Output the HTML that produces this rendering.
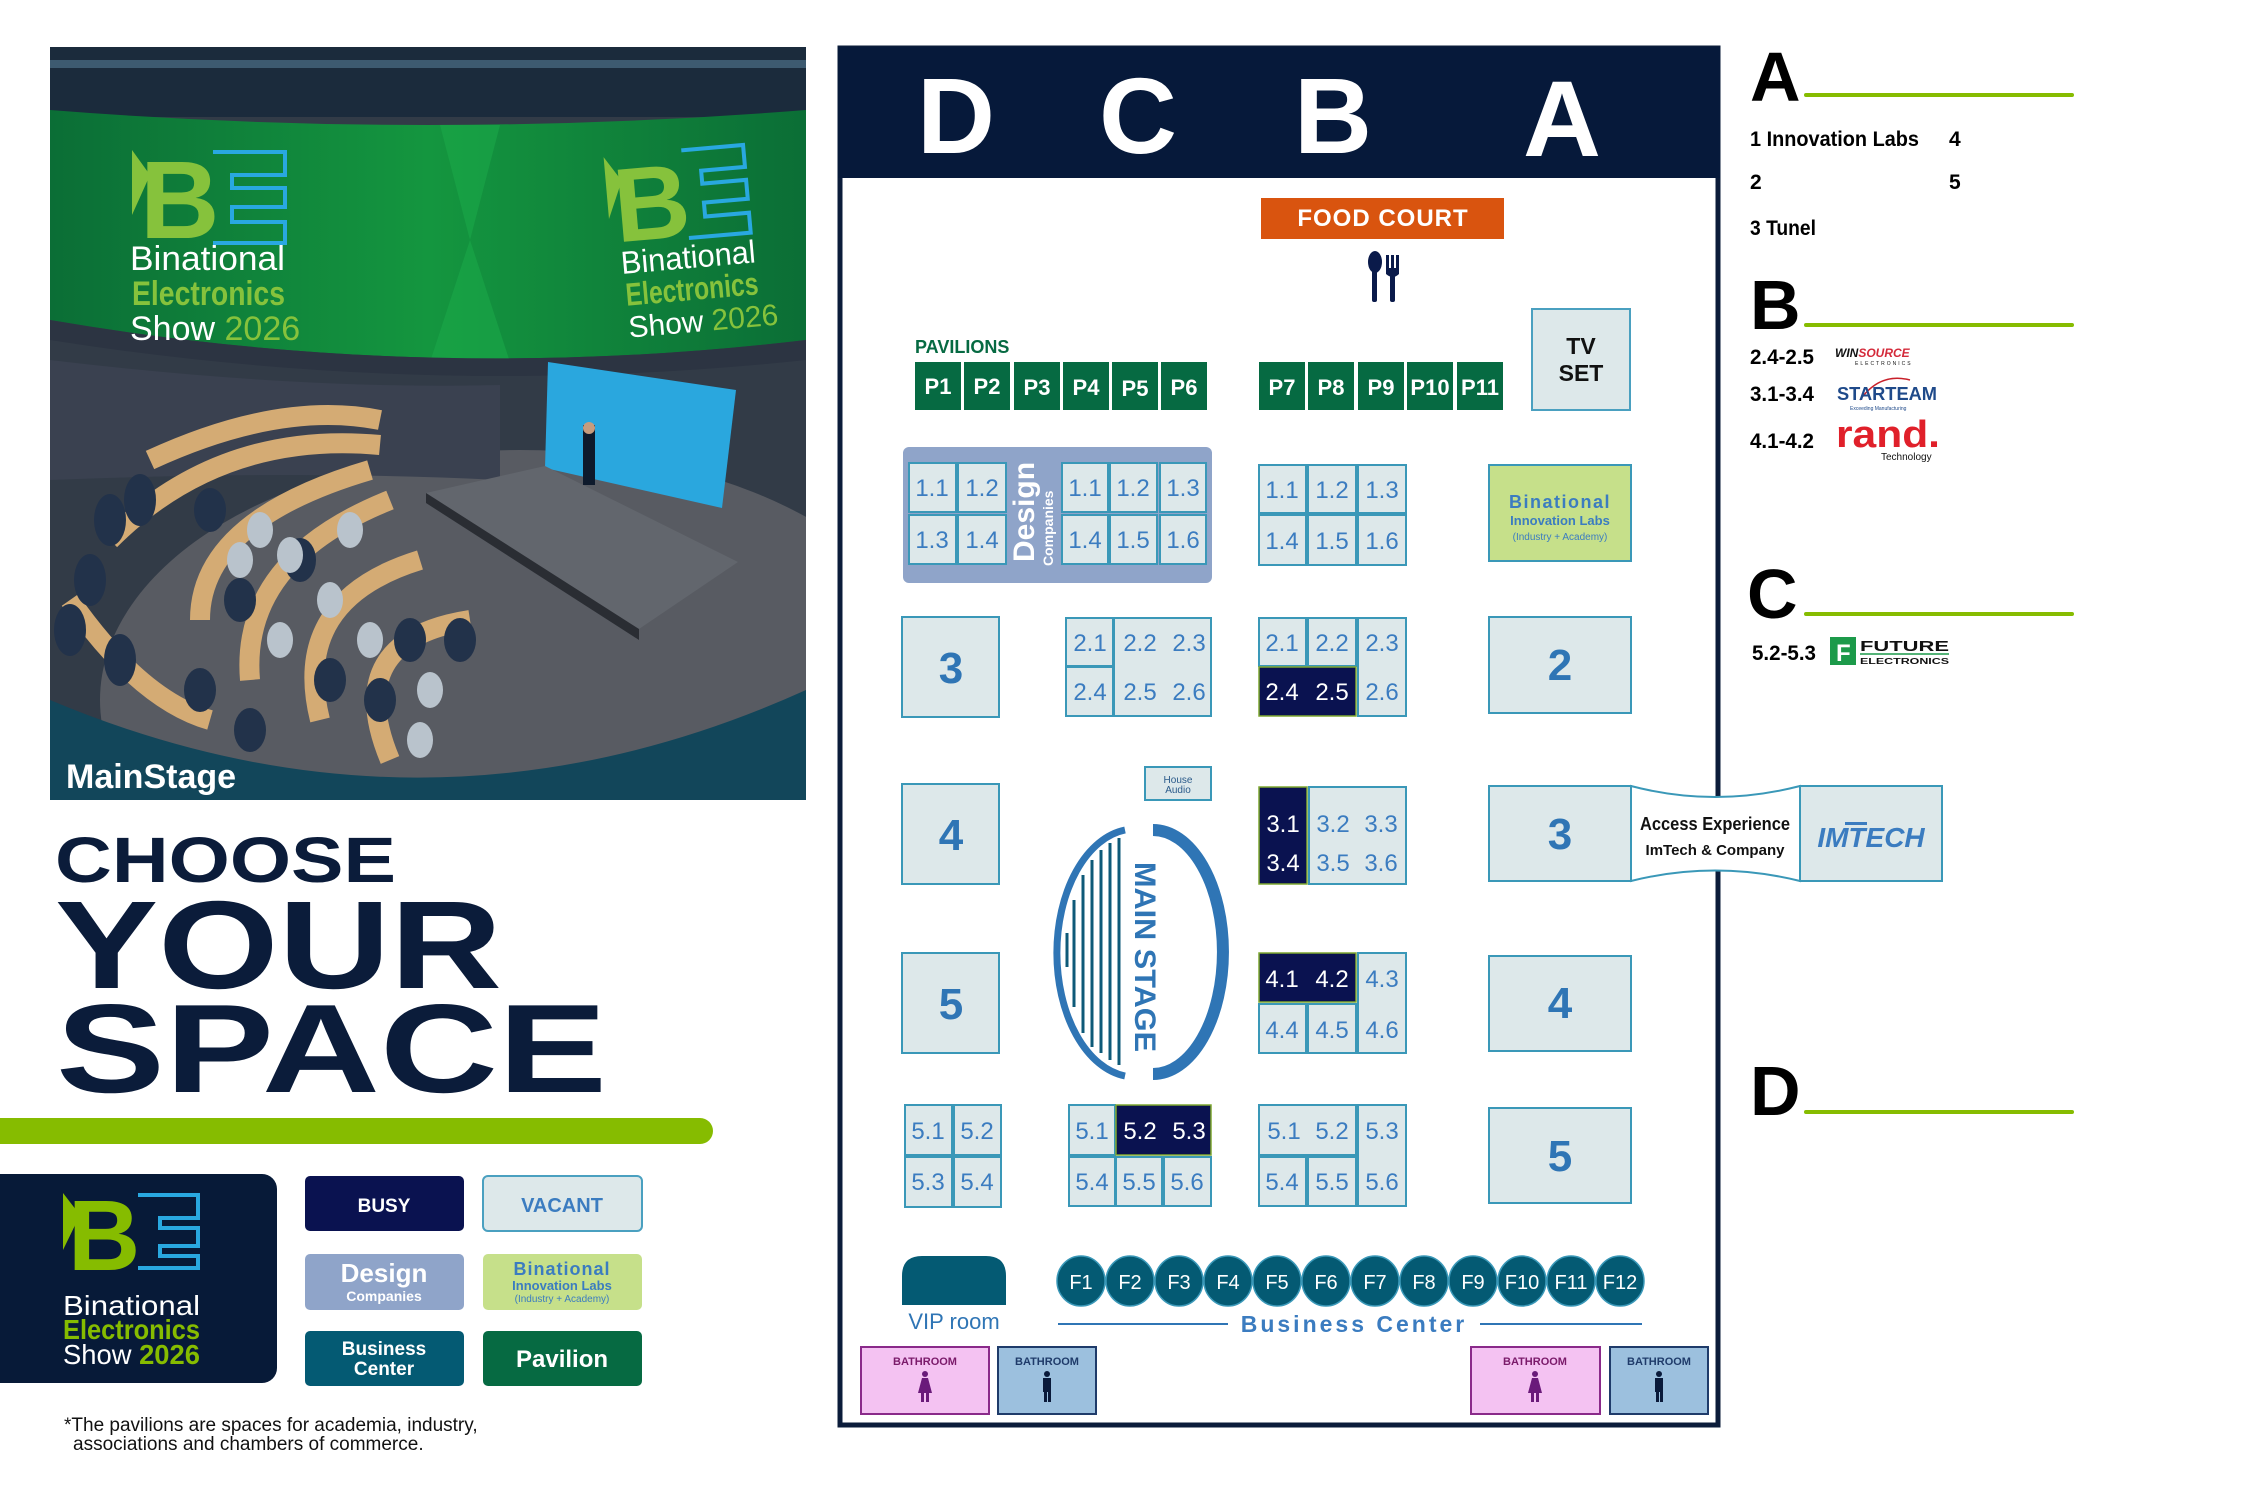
<!DOCTYPE html>
<html><head><meta charset="utf-8"><style>html,body{margin:0;padding:0;background:#fff}svg{display:block}</style></head>
<body>
<svg width="2262" height="1500" viewBox="0 0 2262 1500" xmlns="http://www.w3.org/2000/svg" font-family="Liberation Sans, DejaVu Sans, sans-serif">
<defs>
<clipPath id="ph"><rect x="50" y="47" width="756" height="753"/></clipPath>
<linearGradient id="gb" x1="0" y1="0" x2="1" y2="0"><stop offset="0" stop-color="#0b6e36"/><stop offset="0.5" stop-color="#14963f"/><stop offset="1" stop-color="#0b6e36"/></linearGradient>
</defs>
<rect width="2262" height="1500" fill="#fff"/>

<!-- PHOTO -->
<g clip-path="url(#ph)">
<rect x="50" y="47" width="756" height="753" fill="#323b47"/>
<rect x="50" y="47" width="756" height="70" fill="#1b2b3c"/>
<rect x="50" y="60" width="756" height="8" fill="#3d5a70"/>
<path d="M50,110 Q428,140 806,110 L806,340 Q428,385 50,320 Z" fill="url(#gb)"/>
<path d="M440,125 L500,125 L470,240 Z" fill="#1aa84a" opacity="0.6"/>
<path d="M470,240 L430,362 L510,362 Z" fill="#1aa84a" opacity="0.6"/>
<path d="M50,320 Q428,385 806,340 L806,360 Q428,400 50,340 Z" fill="#2c3442"/>
<ellipse cx="520" cy="700" rx="420" ry="250" fill="#585b62"/>
<path d="M50,360 Q300,390 500,385 L500,480 Q300,470 50,480 Z" fill="#3a4150"/>
<path d="M548,362 L736,390 L722,508 L545,468 Z" fill="#2aa7de"/>
<path d="M426,493 L545,466 L738,562 L639,629 Z" fill="#62666d"/>
<path d="M426,493 L639,629 L639,640 L426,503 Z" fill="#2a2d33"/>
<rect x="583" y="425" width="12" height="60" fill="#0e1a2c"/>
<circle cx="589" cy="428" r="6" fill="#c69c7e"/>
<g fill="none" stroke="#d4ab74" stroke-width="20">
<path d="M150,460 Q280,400 380,420"/>
<path d="M110,540 Q220,430 380,445"/>
<path d="M200,620 Q200,520 370,470"/>
<path d="M250,680 Q240,560 390,500"/>
<path d="M320,720 Q290,600 420,560"/>
<path d="M390,760 Q340,640 470,620"/>
<path d="M70,600 Q140,700 210,720"/>
</g>
<g fill="#22324a">
<ellipse cx="110" cy="520" rx="16" ry="26"/><ellipse cx="140" cy="500" rx="16" ry="26"/><ellipse cx="90" cy="580" rx="16" ry="26"/>
<ellipse cx="70" cy="630" rx="16" ry="26"/><ellipse cx="120" cy="660" rx="16" ry="26"/><ellipse cx="210" cy="510" rx="16" ry="22"/>
<ellipse cx="300" cy="560" rx="16" ry="22"/>
<ellipse cx="240" cy="600" rx="16" ry="22"/><ellipse cx="330" cy="680" rx="16" ry="22"/>
<ellipse cx="380" cy="700" rx="16" ry="22"/><ellipse cx="410" cy="640" rx="16" ry="22"/>
<ellipse cx="460" cy="640" rx="16" ry="22"/><ellipse cx="200" cy="690" rx="16" ry="22"/>
<ellipse cx="250" cy="730" rx="16" ry="22"/></g>
<g fill="#b9c3cc"><ellipse cx="290" cy="555" rx="13" ry="18"/><ellipse cx="330" cy="600" rx="13" ry="18"/><ellipse cx="370" cy="640" rx="13" ry="18"/><ellipse cx="420" cy="740" rx="13" ry="18"/><ellipse cx="240" cy="560" rx="13" ry="18"/><ellipse cx="350" cy="530" rx="13" ry="18"/><ellipse cx="280" cy="640" rx="13" ry="18"/><ellipse cx="430" cy="690" rx="13" ry="18"/><ellipse cx="260" cy="530" rx="13" ry="18"/></g>
<path d="M50,700 Q430,860 806,690 L806,800 L50,800 Z" fill="#12465a"/>
<path d="M132,150 L150,175 L132,215 Z" fill="#86c23c"/>
<text x="140" y="238" font-size="110" font-weight="bold" fill="#86c23c">B</text>
<path d="M213,152 H285 V175 H232 V188 H285 V207 H232 V222 H285 V243 H213" fill="none" stroke="#29a8e0" stroke-width="4"/>
<text x="130" y="270" font-size="34" fill="#fff" textLength="155" lengthAdjust="spacingAndGlyphs">Binational</text>
<text x="132" y="305" font-size="34" font-weight="bold" fill="#86c23c" textLength="153" lengthAdjust="spacingAndGlyphs">Electronics</text>
<text x="130" y="340" font-size="34" fill="#fff">Show <tspan fill="#86c23c">2026</tspan></text>
<g transform="rotate(-5 690 250)">
<path d="M612,150 L628,175 L612,212 Z" fill="#86c23c"/>
<text x="618" y="236" font-size="105" font-weight="bold" fill="#86c23c">B</text>
<path d="M690,150 H752 V172 H708 V185 H752 V204 H708 V218 H752 V238 H690" fill="none" stroke="#29a8e0" stroke-width="4"/>
<text x="620" y="268" font-size="32" fill="#fff" textLength="135" lengthAdjust="spacingAndGlyphs">Binational</text>
<text x="622" y="300" font-size="32" font-weight="bold" fill="#86c23c" textLength="133" lengthAdjust="spacingAndGlyphs">Electronics</text>
<text x="622" y="332" font-size="30" fill="#fff">Show <tspan fill="#86c23c">2026</tspan></text>
</g>
<text x="66" y="788" font-size="34" font-weight="bold" fill="#fff">MainStage</text>
</g>

<g fill="#0b1c3a" font-weight="900">
<text x="55" y="882" font-size="64" textLength="341" lengthAdjust="spacingAndGlyphs">CHOOSE</text>
<text x="55" y="988" font-size="125" textLength="447" lengthAdjust="spacingAndGlyphs">YOUR</text>
<text x="56" y="1092" font-size="126" textLength="551" lengthAdjust="spacingAndGlyphs">SPACE</text>
</g>
<path d="M0,1118 H700 A13,13 0 0 1 700,1144 H0 Z" fill="#86bc00"/>

<path d="M0,1174 H262 A15,15 0 0 1 277,1189 V1368 A15,15 0 0 1 262,1383 H0 Z" fill="#071a38"/>
<path d="M63,1193 L80,1215 L63,1250 Z" fill="#86bc00"/>
<text x="68" y="1270" font-size="100" font-weight="bold" fill="#86bc00">B</text>
<path d="M138,1195 H198 V1218 H160 V1228 H198 V1246 H160 V1256 H198 V1268 H138" fill="none" stroke="#29a8e0" stroke-width="4"/>
<text x="63" y="1315" font-size="28" fill="#fff" textLength="137" lengthAdjust="spacingAndGlyphs">Binational</text>
<text x="63" y="1339" font-size="28" font-weight="bold" fill="#86bc00" textLength="137" lengthAdjust="spacingAndGlyphs">Electronics</text>
<text x="63" y="1364" font-size="28" fill="#fff" textLength="137" lengthAdjust="spacingAndGlyphs">Show <tspan fill="#86bc00" font-weight="bold">2026</tspan></text>

<rect x="305" y="1176" width="159" height="55" rx="5" fill="#0a1250"/>
<text x="384" y="1212" font-size="19" font-weight="bold" fill="#fff" text-anchor="middle">BUSY</text>
<rect x="483" y="1176" width="159" height="55" rx="5" fill="#dde8ea" stroke="#4aa0c0" stroke-width="2"/>
<text x="562" y="1212" font-size="20" font-weight="bold" fill="#3b7cc0" text-anchor="middle">VACANT</text>
<rect x="305" y="1254" width="159" height="56" rx="5" fill="#8fa4c9"/>
<text x="384" y="1282" font-size="26" font-weight="bold" fill="#fff" text-anchor="middle">Design</text>
<text x="384" y="1301" font-size="14" font-weight="bold" fill="#fff" text-anchor="middle">Companies</text>
<rect x="483" y="1254" width="159" height="56" rx="5" fill="#c6e08a"/>
<text x="562" y="1275" font-size="18" font-weight="bold" fill="#3b7cc0" text-anchor="middle" letter-spacing="1">Binational</text>
<text x="562" y="1290" font-size="13" font-weight="bold" fill="#3b7cc0" text-anchor="middle">Innovation Labs</text>
<text x="562" y="1302" font-size="10" fill="#3b7cc0" text-anchor="middle">(Industry + Academy)</text>
<rect x="305" y="1331" width="159" height="55" rx="5" fill="#045a73"/>
<text x="384" y="1355" font-size="19" font-weight="bold" fill="#fff" text-anchor="middle">Business</text>
<text x="384" y="1375" font-size="19" font-weight="bold" fill="#fff" text-anchor="middle">Center</text>
<rect x="483" y="1331" width="159" height="55" rx="5" fill="#066a42"/>
<text x="562" y="1367" font-size="24" font-weight="bold" fill="#fff" text-anchor="middle">Pavilion</text>

<text x="64" y="1431" font-size="19" fill="#111">*The pavilions are spaces for academia, industry,</text>
<text x="73" y="1450" font-size="19" fill="#111">associations and chambers of commerce.</text>

<rect x="840" y="48" width="878" height="1377" fill="#fff" stroke="#0b1c3a" stroke-width="5"/>
<rect x="838" y="47" width="882" height="131" fill="#06193a"/>
<g fill="#fff" font-weight="bold" font-size="108" text-anchor="middle">
<text x="956" y="153">D</text><text x="1138" y="153">C</text><text x="1333" y="153">B</text><text x="1562" y="156">A</text>
</g>
<rect x="1261" y="198" width="243" height="41" fill="#d9540f"/>
<text x="1383" y="226" font-size="24" font-weight="bold" fill="#fff" text-anchor="middle" letter-spacing="1">FOOD COURT</text>
<g fill="#0a1a4a"><ellipse cx="1375" cy="262" rx="7" ry="11"/><rect x="1372" y="266" width="5" height="36" rx="2"/>
<rect x="1386" y="255" width="3" height="16"/><rect x="1391" y="255" width="3" height="16"/><rect x="1396" y="255" width="3" height="16"/>
<path d="M1386,268 H1399 V274 Q1393,280 1386,274 Z"/><rect x="1390" y="272" width="5" height="30" rx="2"/></g>

<text x="915" y="353" font-size="18" font-weight="bold" fill="#066a42">PAVILIONS</text>
<g fill="#066a42">
<rect x="915" y="362" width="46" height="48"/><rect x="964" y="362" width="46" height="48"/><rect x="1014" y="362" width="46" height="48"/>
<rect x="1063" y="362" width="46" height="48"/><rect x="1112" y="362" width="46" height="48"/><rect x="1161" y="362" width="46" height="48"/>
<rect x="1259" y="362" width="46" height="48"/><rect x="1308" y="362" width="46" height="48"/><rect x="1358" y="362" width="46" height="48"/>
<rect x="1407" y="362" width="46" height="48"/><rect x="1457" y="362" width="46" height="48"/>
</g>
<g fill="#fff" font-size="22" font-weight="bold" text-anchor="middle">
<text x="938" y="394">P1</text><text x="987" y="394">P2</text><text x="1037" y="395">P3</text><text x="1086" y="395">P4</text><text x="1135" y="396">P5</text><text x="1184" y="395">P6</text>
<text x="1282" y="395">P7</text><text x="1331" y="395">P8</text><text x="1381" y="395">P9</text><text x="1430" y="395">P10</text><text x="1480" y="395">P11</text>
</g>
<rect x="1532" y="309" width="98" height="101" fill="#dde8ea" stroke="#4aa0c0" stroke-width="2"/>
<text x="1581" y="354" font-size="23" font-weight="bold" fill="#111" text-anchor="middle">TV</text>
<text x="1581" y="381" font-size="23" font-weight="bold" fill="#111" text-anchor="middle">SET</text>

<rect x="903" y="447" width="309" height="136" rx="6" fill="#8fa4c9"/>
<g fill="#dde8ea" stroke="#3a98b8" stroke-width="2">
<rect x="909" y="463" width="47" height="49"/><rect x="958" y="463" width="48" height="49"/>
<rect x="909" y="515" width="47" height="49"/><rect x="958" y="515" width="48" height="49"/>
<rect x="1062" y="463" width="46" height="49"/><rect x="1110" y="463" width="47" height="49"/><rect x="1160" y="463" width="46" height="49"/>
<rect x="1062" y="515" width="46" height="49"/><rect x="1110" y="515" width="47" height="49"/><rect x="1160" y="515" width="46" height="49"/>
<rect x="1259" y="465" width="47" height="48"/><rect x="1308" y="465" width="48" height="48"/><rect x="1358" y="465" width="48" height="48"/>
<rect x="1259" y="515" width="47" height="50"/><rect x="1308" y="515" width="48" height="50"/><rect x="1358" y="515" width="48" height="50"/>
<rect x="902" y="617" width="97" height="100"/>
<rect x="1489" y="617" width="142" height="96"/>
<rect x="902" y="784" width="97" height="100"/>
<rect x="902" y="953" width="97" height="100"/>
<rect x="1489" y="786" width="142" height="95"/>
<rect x="1800" y="786" width="142" height="95"/>
<rect x="1489" y="956" width="142" height="95"/>
<rect x="1489" y="1108" width="142" height="95"/>
<rect x="1145" y="767" width="66" height="33"/>
<rect x="1066" y="618" width="47" height="48"/><rect x="1066" y="667" width="47" height="49"/><rect x="1114" y="618" width="97" height="98"/>
<rect x="1259" y="618" width="47" height="48"/><rect x="1308" y="618" width="48" height="48"/><rect x="1358" y="618" width="48" height="98"/>
<rect x="1309" y="787" width="97" height="97"/>
<rect x="1358" y="953" width="48" height="100"/><rect x="1259" y="1004" width="47" height="49"/><rect x="1308" y="1004" width="48" height="49"/>
<rect x="905" y="1105" width="47" height="50"/><rect x="954" y="1105" width="47" height="50"/><rect x="905" y="1157" width="47" height="50"/><rect x="954" y="1157" width="47" height="50"/>
<rect x="1069" y="1105" width="46" height="50"/><rect x="1069" y="1157" width="46" height="49"/><rect x="1116" y="1157" width="46" height="49"/><rect x="1164" y="1157" width="47" height="49"/>
<rect x="1259" y="1105" width="97" height="50"/><rect x="1358" y="1105" width="48" height="101"/><rect x="1259" y="1157" width="47" height="49"/><rect x="1308" y="1157" width="48" height="49"/>
</g>
<rect x="1489" y="465" width="142" height="96" fill="#c6e08a" stroke="#3a98b8" stroke-width="2"/>
<text x="1560" y="508" font-size="18" font-weight="bold" fill="#3b7cc0" text-anchor="middle" letter-spacing="1.5">Binational</text>
<text x="1560" y="525" font-size="13" font-weight="bold" fill="#3b7cc0" text-anchor="middle">Innovation Labs</text>
<text x="1560" y="540" font-size="10" fill="#3b7cc0" text-anchor="middle">(Industry + Academy)</text>
<g fill="#0a1250" stroke="#7fa830" stroke-width="1.5">
<rect x="1259" y="667" width="97" height="49"/>
<rect x="1259" y="787" width="48" height="97"/>
<rect x="1259" y="953" width="97" height="49"/>
<rect x="1116" y="1105" width="95" height="50"/>
</g>
<text transform="translate(1034,562) rotate(-90)" font-size="30" font-weight="bold" fill="#fff">Design</text>
<text transform="translate(1053,566) rotate(-90)" font-size="14" font-weight="bold" fill="#fff">Companies</text>
<g font-size="24" fill="#3b7cc0" text-anchor="middle">
<text x="932" y="496">1.1</text><text x="982" y="496">1.2</text><text x="932" y="548">1.3</text><text x="982" y="548">1.4</text>
<text x="1085" y="496">1.1</text><text x="1133" y="496">1.2</text><text x="1183" y="496">1.3</text>
<text x="1085" y="548">1.4</text><text x="1133" y="548">1.5</text><text x="1183" y="548">1.6</text>
<text x="1282" y="498">1.1</text><text x="1332" y="498">1.2</text><text x="1382" y="498">1.3</text>
<text x="1282" y="549">1.4</text><text x="1332" y="549">1.5</text><text x="1382" y="549">1.6</text>
<text x="1090" y="651">2.1</text><text x="1090" y="700">2.4</text>
<text x="1140" y="651">2.2</text><text x="1189" y="651">2.3</text><text x="1140" y="700">2.5</text><text x="1189" y="700">2.6</text>
<text x="1282" y="651">2.1</text><text x="1332" y="651">2.2</text><text x="1382" y="651">2.3</text><text x="1382" y="700">2.6</text>
<text x="1333" y="832">3.2</text><text x="1381" y="832">3.3</text><text x="1333" y="871">3.5</text><text x="1381" y="871">3.6</text>
<text x="1382" y="987">4.3</text><text x="1382" y="1038">4.6</text><text x="1282" y="1038">4.4</text><text x="1332" y="1038">4.5</text>
<text x="928" y="1139">5.1</text><text x="977" y="1139">5.2</text><text x="928" y="1190">5.3</text><text x="977" y="1190">5.4</text>
<text x="1092" y="1139">5.1</text><text x="1092" y="1190">5.4</text><text x="1139" y="1190">5.5</text><text x="1187" y="1190">5.6</text>
<text x="1284" y="1139">5.1</text><text x="1332" y="1139">5.2</text><text x="1382" y="1139">5.3</text>
<text x="1382" y="1190">5.6</text><text x="1282" y="1190">5.4</text><text x="1332" y="1190">5.5</text>
</g>
<g font-size="24" fill="#fff" text-anchor="middle">
<text x="1282" y="700">2.4</text><text x="1332" y="700">2.5</text>
<text x="1283" y="832">3.1</text><text x="1283" y="871">3.4</text>
<text x="1282" y="987">4.1</text><text x="1332" y="987">4.2</text>
<text x="1140" y="1139">5.2</text><text x="1189" y="1139">5.3</text>
</g>
<g font-size="44" font-weight="bold" fill="#2f75b5" text-anchor="middle">
<text x="951" y="683">3</text><text x="1560" y="680">2</text><text x="951" y="850">4</text><text x="951" y="1019">5</text>
<text x="1560" y="849">3</text><text x="1560" y="1018">4</text><text x="1560" y="1171">5</text>
</g>
<text x="1178" y="783" font-size="10" fill="#2a5a8a" text-anchor="middle">House</text>
<text x="1178" y="793" font-size="10" fill="#2a5a8a" text-anchor="middle">Audio</text>

<path d="M1125,830 A78,124 0 0 0 1125,1076" fill="none" stroke="#2f75b5" stroke-width="7"/>
<path d="M1153,830 A70,122 0 0 1 1153,1074" fill="none" stroke="#2f75b5" stroke-width="12"/>
<g stroke="#0e5a78" stroke-width="3">
<line x1="1067" y1="933" x2="1067" y2="967"/><line x1="1074" y1="900" x2="1074" y2="1007"/><line x1="1083" y1="875" x2="1083" y2="1033"/>
<line x1="1092" y1="860" x2="1092" y2="1047"/><line x1="1101" y1="850" x2="1101" y2="1053"/><line x1="1110" y1="843" x2="1110" y2="1060"/><line x1="1119" y1="838" x2="1119" y2="1065"/>
</g>
<text transform="translate(1135,862) rotate(90)" font-size="30" font-weight="bold" fill="#2f75b5" textLength="190" lengthAdjust="spacingAndGlyphs">MAIN STAGE</text>

<path d="M1631,786 Q1715,808 1800,786 L1800,881 Q1715,860 1631,881 Z" fill="#fff" stroke="#3a98b8" stroke-width="2"/>
<text x="1715" y="830" font-size="18" font-weight="bold" fill="#111" text-anchor="middle" textLength="150" lengthAdjust="spacingAndGlyphs">Access Experience</text>
<text x="1715" y="855" font-size="15" font-weight="bold" fill="#111" text-anchor="middle">ImTech &amp; Company</text>
<text x="1871" y="847" font-size="28" font-weight="900" font-style="italic" fill="#3b7cc0" text-anchor="middle">IMTECH</text>
<rect x="1845" y="822" width="22" height="3" fill="#3b7cc0"/>

<path d="M902,1305 V1276 Q902,1256 922,1256 H986 Q1006,1256 1006,1276 V1305 Z" fill="#045a73"/>
<text x="954" y="1329" font-size="22" fill="#2f75b5" text-anchor="middle">VIP room</text>
<g fill="#045a73" stroke="#3a98b8" stroke-width="1.5">
<ellipse cx="1081" cy="1281" rx="24" ry="25"/><ellipse cx="1130" cy="1281" rx="24" ry="25"/><ellipse cx="1179" cy="1281" rx="24" ry="25"/><ellipse cx="1228" cy="1281" rx="24" ry="25"/>
<ellipse cx="1277" cy="1281" rx="24" ry="25"/><ellipse cx="1326" cy="1281" rx="24" ry="25"/><ellipse cx="1375" cy="1281" rx="24" ry="25"/><ellipse cx="1424" cy="1281" rx="24" ry="25"/>
<ellipse cx="1473" cy="1281" rx="24" ry="25"/><ellipse cx="1522" cy="1281" rx="24" ry="25"/><ellipse cx="1571" cy="1281" rx="24" ry="25"/><ellipse cx="1620" cy="1281" rx="24" ry="25"/>
</g>
<g fill="#fff" font-size="20" text-anchor="middle">
<text x="1081" y="1289">F1</text><text x="1130" y="1289">F2</text><text x="1179" y="1289">F3</text><text x="1228" y="1289">F4</text><text x="1277" y="1289">F5</text><text x="1326" y="1289">F6</text>
<text x="1375" y="1289">F7</text><text x="1424" y="1289">F8</text><text x="1473" y="1289">F9</text><text x="1522" y="1289">F10</text><text x="1571" y="1289">F11</text><text x="1620" y="1289">F12</text>
</g>
<line x1="1058" y1="1324" x2="1228" y2="1324" stroke="#2f75b5" stroke-width="2"/>
<line x1="1480" y1="1324" x2="1642" y2="1324" stroke="#2f75b5" stroke-width="2"/>
<text x="1354" y="1332" font-size="23" font-weight="bold" fill="#3b7cc0" text-anchor="middle" letter-spacing="3">Business Center</text>

<g stroke-width="2">
<rect x="861" y="1347" width="128" height="67" fill="#f4c2f2" stroke="#8a2a8a"/>
<rect x="998" y="1347" width="98" height="67" fill="#9cc0de" stroke="#1f3b6a"/>
<rect x="1471" y="1347" width="129" height="67" fill="#f4c2f2" stroke="#8a2a8a"/>
<rect x="1610" y="1347" width="98" height="67" fill="#9cc0de" stroke="#1f3b6a"/>
</g>
<g font-size="11" font-weight="bold" text-anchor="middle">
<text x="925" y="1365" fill="#7a1a6a">BATHROOM</text><text x="1047" y="1365" fill="#1f3b6a">BATHROOM</text>
<text x="1535" y="1365" fill="#7a1a6a">BATHROOM</text><text x="1659" y="1365" fill="#1f3b6a">BATHROOM</text>
</g>
<g fill="#6a1a7a"><circle cx="925" cy="1374" r="3"/><path d="M922,1378 H928 L932,1393 H918 Z"/><rect x="921" y="1393" width="3" height="9"/><rect x="926" y="1393" width="3" height="9"/>
<circle cx="1535" cy="1374" r="3"/><path d="M1532,1378 H1538 L1542,1393 H1528 Z"/><rect x="1531" y="1393" width="3" height="9"/><rect x="1536" y="1393" width="3" height="9"/></g>
<g fill="#0a1a3a"><circle cx="1047" cy="1374" r="3"/><rect x="1043" y="1378" width="8" height="14"/><rect x="1044" y="1391" width="3" height="11"/><rect x="1048" y="1391" width="3" height="11"/>
<circle cx="1659" cy="1374" r="3"/><rect x="1655" y="1378" width="8" height="14"/><rect x="1656" y="1391" width="3" height="11"/><rect x="1660" y="1391" width="3" height="11"/></g>

<g font-weight="bold" fill="#000">
<text x="1750" y="101" font-size="70">A</text>
<text x="1750" y="329" font-size="70">B</text>
<text x="1747" y="618" font-size="70">C</text>
<text x="1750" y="1115" font-size="70">D</text>
</g>
<g stroke="#86bc00" stroke-width="4" stroke-linecap="round">
<line x1="1806" y1="95" x2="2072" y2="95"/><line x1="1806" y1="325" x2="2072" y2="325"/>
<line x1="1806" y1="614" x2="2072" y2="614"/><line x1="1806" y1="1112" x2="2072" y2="1112"/>
</g>
<g font-size="21" font-weight="bold" fill="#000">
<text x="1750" y="146" textLength="169" lengthAdjust="spacingAndGlyphs">1 Innovation Labs</text>
<text x="1949" y="146">4</text>
<text x="1750" y="189">2</text><text x="1949" y="189">5</text>
<text x="1750" y="235" textLength="66" lengthAdjust="spacingAndGlyphs">3 Tunel</text>
<text x="1750" y="364" textLength="64" lengthAdjust="spacingAndGlyphs">2.4-2.5</text>
<text x="1750" y="401" textLength="64" lengthAdjust="spacingAndGlyphs">3.1-3.4</text>
<text x="1750" y="448" textLength="64" lengthAdjust="spacingAndGlyphs">4.1-4.2</text>
<text x="1752" y="660" textLength="64" lengthAdjust="spacingAndGlyphs">5.2-5.3</text>
</g>
<text x="1835" y="357" font-size="12" font-weight="900" font-style="italic" fill="#111">WIN<tspan fill="#d42a3a">SOURCE</tspan></text>
<text x="1855" y="365" font-size="5" fill="#111" letter-spacing="2">ELECTRONICS</text>
<path d="M1860,400 Q1880,372 1910,380" fill="none" stroke="#c8202a" stroke-width="1.5"/>
<text x="1837" y="400" font-size="18" font-weight="bold" fill="#1f4a8a" textLength="100" lengthAdjust="spacingAndGlyphs">STARTEAM</text>
<text x="1850" y="410" font-size="5" fill="#1f4a8a">Exceeding Manufacturing</text>
<text x="1836" y="447" font-size="38" font-weight="bold" fill="#e0202a" textLength="104" lengthAdjust="spacingAndGlyphs">rand.</text>
<text x="1881" y="460" font-size="10" fill="#111">Technology</text>
<rect x="1830" y="637" width="26" height="28" fill="#1c9a4a"/>
<text x="1836" y="661" font-size="24" font-weight="bold" fill="#fff">F</text>
<text x="1860" y="651" font-size="15" font-weight="900" fill="#111" textLength="89" lengthAdjust="spacingAndGlyphs">FUTURE</text>
<line x1="1860" y1="654" x2="1949" y2="654" stroke="#1c9a4a" stroke-width="1.5"/>
<text x="1860" y="664" font-size="8" font-weight="bold" fill="#111" textLength="89" lengthAdjust="spacingAndGlyphs">ELECTRONICS</text>
</svg>
</body></html>
